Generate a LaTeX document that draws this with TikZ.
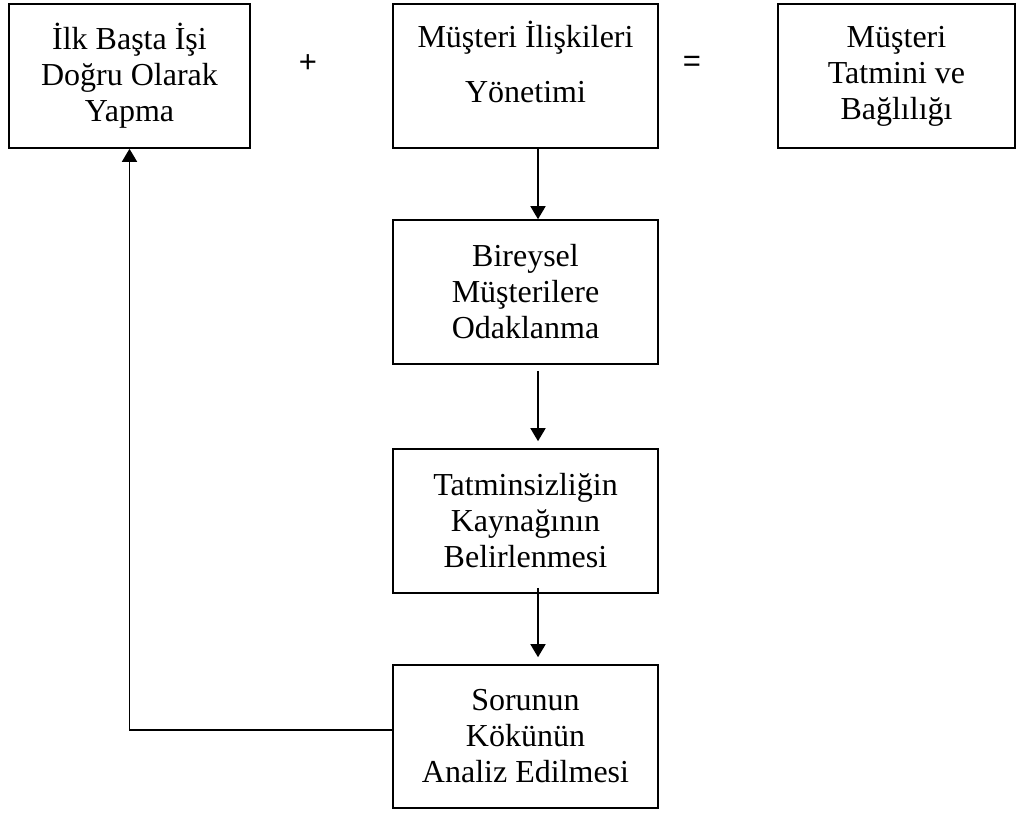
\documentclass[tikz,border=0pt]{standalone}
\usepackage{fontspec}
\setmainfont{Liberation Serif}
\newfontfamily\symfont{Liberation Sans}
\usetikzlibrary{arrows.meta}
\tikzset{
  box/.style={draw, line width=1.6pt, rectangle, align=center, inner sep=0pt,
    font=\fontsize{32}{36}\selectfont},
  txt/.style={align=center, inner sep=0pt, font=\fontsize{32}{36}\selectfont},
  op/.style={inner sep=0pt, font=\symfont\fontsize{31}{36}\selectfont},
  arr/.style={line width=1.6pt, -{Triangle[width=15pt,length=13pt]}}
}
\begin{document}
\begin{tikzpicture}[x=1pt,y=-1pt]
\useasboundingbox (0,0) rectangle (1017,812);
\node[box, minimum width=241pt, minimum height=144pt] (b1) at (129.5,76)
  {İlk Başta İşi\\Doğru Olarak\\Yapma};
\node[box, minimum width=265pt, minimum height=144pt] (b2) at (525.5,76) {};
\node[txt, font=\fontsize{32}{55}\selectfont] (b2t) at (525.5,62)
  {Müşteri İlişkileri\\Yönetimi};
\node[box, minimum width=237pt, minimum height=144pt] (b3) at (896.5,76)
  {Müşteri\\Tatmini ve\\Bağlılığı};
\node[op] (plus) at (308,64) {+};
\node[op] (eq) at (692,63.5) {=};
\node[box, minimum width=265pt, minimum height=144pt] (b4) at (525.5,292)
  {Bireysel\\Müşterilere\\Odaklanma};
\node[box, minimum width=265pt, minimum height=144pt] (b5) at (525.5,521)
  {Tatminsizliğin\\Kaynağının\\Belirlenmesi};
\node[box, minimum width=265pt, minimum height=143pt] (b6) at (525.5,736.5)
  {Sorunun\\Kökünün\\Analiz Edilmesi};
\draw[arr] ([xshift=12.5pt]b2.south) -- ([xshift=12.5pt]b4.north);
\draw[arr] ([xshift=12.5pt,yshift=-6pt]b4.south) -- ([xshift=12.5pt,yshift=7pt]b5.north);
\draw[arr] ([xshift=12.5pt,yshift=6pt]b5.south) -- ([xshift=12.5pt,yshift=7pt]b6.north);
\draw[arr] ([yshift=6.5pt]b6.west) -| (b1.south);
\end{tikzpicture}
\end{document}
